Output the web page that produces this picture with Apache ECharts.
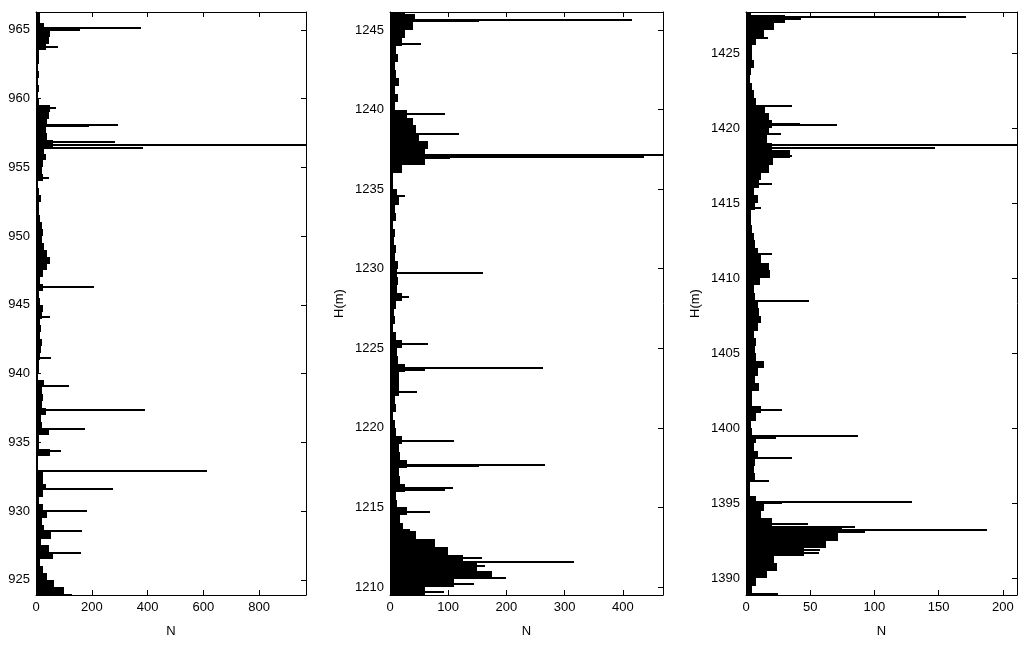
<!DOCTYPE html>
<html>
<head>
<meta charset="utf-8">
<script src="https://cdn.jsdelivr.net/npm/echarts@6/dist/echarts.min.js"></script>
<style>
  html, body { margin: 0; padding: 0; background: #fff; }
  #chart { width: 1024px; height: 645px; }
</style>
</head>
<body>
<div id="chart"></div>
<script>
// 粗分箱的宽度 (m)
const binStep = 0.5
// 细尖峰的厚度 (m)
const spikeStep = 0.12

// 面板 1：从 966.5 m 向下的计数
const topDepth1 = 966.5
const counts1 = [15, 15, 30, 50, 45, 35, 10, 12, 8, 12, 8, 10, 8, 12, 50, 45, 40, 35, 40, 60,
  30, 35, 25, 20, 25, 8, 12, 18, 10, 10, 15, 20, 25, 20, 30, 40, 50, 40, 25, 15,
  25, 12, 15, 25, 20, 15, 18, 15, 22, 18, 15, 10, 12, 8, 30, 20, 25, 20, 35, 18,
  20, 45, 10, 12, 50, 8, 6, 25, 25, 35, 25, 12, 25, 40, 20, 30, 55, 18, 45, 60,
  15, 25, 40, 65, 100, 130]
// 面板 1 的尖峰 [深度, N]
const spikes1 = [[965.15, 377], [965.0, 158], [963.8, 80], [959.3, 72], [958.1, 294], [958.0, 190],
  [956.85, 283], [956.65, 968], [956.45, 384], [954.25, 47], [946.3, 208], [944.15, 50],
  [941.15, 53], [939.1, 118], [937.35, 390], [935.95, 175], [934.4, 88], [932.93, 613],
  [931.6, 276], [930.0, 183], [928.6, 164], [927.0, 161]]

// 面板 2
const topDepth2 = 1246.5
const counts2 = [26, 43, 40, 25, 20, 10, 14, 8, 10, 15, 8, 13, 8, 30, 40, 45, 50, 65, 60, 60,
  20, 6, 5, 12, 15, 8, 10, 6, 9, 7, 10, 8, 14, 12, 14, 12, 20, 10, 7, 8,
  6, 10, 20, 12, 14, 25, 15, 16, 15, 8, 10, 6, 8, 10, 20, 15, 18, 30, 15, 18,
  25, 10, 12, 30, 18, 22, 45, 78, 100, 125, 150, 175, 110, 60]
const spikes2 = [[1245.65, 415], [1245.55, 153], [1244.15, 53], [1239.75, 95], [1238.45, 118],
  [1237.15, 470], [1237.05, 437], [1236.95, 103], [1234.6, 25], [1229.75, 160], [1228.2, 33],
  [1225.25, 65], [1223.75, 263], [1223.65, 60], [1222.25, 46], [1219.2, 110], [1217.7, 266],
  [1217.6, 153], [1216.2, 108], [1216.1, 95], [1214.7, 69], [1213.6, 35], [1211.8, 158],
  [1211.6, 316], [1211.3, 163], [1210.9, 172], [1210.6, 200], [1210.2, 144], [1209.7, 93]]

// 面板 3
const topDepth3 = 1428.0
const counts3 = [4, 30, 22, 14, 8, 5, 5, 6, 4, 3, 5, 6, 8, 15, 18, 20, 18, 16, 20, 34,
  21, 18, 12, 10, 6, 9, 7, 4, 4, 5, 6, 7, 9, 12, 18, 19, 11, 6, 7, 9,
  10, 12, 9, 6, 8, 7, 8, 14, 9, 7, 10, 5, 5, 12, 8, 4, 5, 8, 6, 9,
  7, 6, 7, 3, 3, 8, 14, 12, 20, 75, 72, 62, 45, 22, 24, 16, 8, 5, 25]
const spikes3 = [[1427.4, 171], [1427.3, 43], [1426.0, 17], [1421.45, 36], [1420.3, 42],
  [1420.2, 71], [1419.6, 27], [1418.85, 211], [1418.7, 147], [1418.15, 36], [1416.3, 20],
  [1414.65, 12], [1411.6, 20], [1408.5, 49], [1401.2, 28], [1399.45, 87], [1399.35, 23],
  [1398.0, 36], [1396.5, 18], [1395.1, 129], [1395.0, 28], [1393.6, 48], [1393.4, 85],
  [1393.2, 188], [1393.1, 93], [1391.9, 58], [1391.7, 57]]

// 坐标轴范围与刻度
const xMax = [968, 469, 211]
const yMin = [923.9, 1209.5, 1388.87]
const yMax = [966.3, 1246.13, 1427.73]
const xTicks = [[0, 200, 400, 600, 800], [0, 100, 200, 300, 400], [0, 50, 100, 150, 200]]
const yTicks = [
  [925, 930, 935, 940, 945, 950, 955, 960, 965],
  [1210, 1215, 1220, 1225, 1230, 1235, 1240, 1245],
  [1390, 1395, 1400, 1405, 1410, 1415, 1420, 1425]
]
const yNames = ['', 'H(m)', 'H(m)']

// 把计数和尖峰转成 [上界, 下界, N]
function buildRows (topDepth, counts, spikes) {
  const rows = counts.map((n, i) => [topDepth - i * binStep, topDepth - (i + 1) * binStep, n])
  spikes.forEach(s => rows.push([s[0] + spikeStep / 2, s[0] - spikeStep / 2, s[1]]))
  return rows
}
const panels = [
  buildRows(topDepth1, counts1, spikes1),
  buildRows(topDepth2, counts2, spikes2),
  buildRows(topDepth3, counts3, spikes3)
]

// 画一根横向的条，对齐到整像素，最细 2px
function drawBar (params, api) {
  const start = api.coord([0, api.value(0)])
  const end = api.coord([api.value(2), api.value(1)])
  const cs = params.coordSys
  const y0 = Math.round(Math.max(start[1], cs.y))
  let y1 = Math.round(Math.min(end[1], cs.y + cs.height))
  if (y1 - y0 < 2) y1 = Math.min(y0 + 2, cs.y + cs.height)
  const x0 = Math.round(start[0])
  const x1 = Math.round(Math.min(end[0], cs.x + cs.width))
  if (y0 >= cs.y + cs.height || x1 <= x0) return null
  return { type: 'rect', shape: { x: x0, y: y0, width: x1 - x0, height: y1 - y0 }, style: { fill: '#000' } }
}

const font = { color: '#000', fontSize: 13, fontFamily: 'Liberation Sans, Arial, sans-serif' }
const lineStyle = { color: '#000', width: 1 }

const grids = [
  { left: 36, top: 12, width: 270, height: 583 },
  { left: 390, top: 12, width: 273, height: 583 },
  { left: 746, top: 12, width: 271, height: 583 }
]
const xAxes = []
const yAxes = []
const series = []
grids.forEach((g, i) => {
  xAxes.push({
    gridIndex: i, type: 'value', position: 'bottom', min: 0, max: xMax[i],
    name: 'N', nameLocation: 'middle', nameGap: 30, nameTextStyle: font,
    axisLine: { show: true, onZero: false, lineStyle: lineStyle },
    axisTick: { inside: true, length: 5, customValues: xTicks[i], lineStyle: lineStyle },
    axisLabel: Object.assign({ margin: 6, customValues: xTicks[i], formatter: v => String(v) }, font),
    splitLine: { show: false }
  })
  xAxes.push({
    gridIndex: i, type: 'value', position: 'top', min: 0, max: xMax[i],
    axisLine: { show: true, onZero: false, lineStyle: lineStyle },
    axisTick: { inside: true, length: 5, customValues: xTicks[i], lineStyle: lineStyle },
    axisLabel: { show: false },
    splitLine: { show: false }
  })
  yAxes.push({
    gridIndex: i, type: 'value', position: 'left', min: yMin[i], max: yMax[i],
    name: yNames[i], nameLocation: 'middle', nameGap: 44, nameTextStyle: font,
    axisLine: { show: true, onZero: false, lineStyle: lineStyle },
    axisTick: { inside: true, length: 5, customValues: yTicks[i], lineStyle: lineStyle },
    axisLabel: Object.assign({ margin: 6, customValues: yTicks[i], formatter: v => String(v) }, font),
    splitLine: { show: false }
  })
  yAxes.push({
    gridIndex: i, type: 'value', position: 'right', min: yMin[i], max: yMax[i],
    axisLine: { show: true, onZero: false, lineStyle: lineStyle },
    axisTick: { inside: true, length: 5, customValues: yTicks[i], lineStyle: lineStyle },
    axisLabel: { show: false },
    splitLine: { show: false }
  })
  series.push({
    type: 'custom',
    xAxisIndex: i * 2,
    yAxisIndex: i * 2,
    renderItem: drawBar,
    encode: { x: 2, y: [0, 1] },
    data: panels[i],
    silent: true,
    animation: false
  })
})

const chart = echarts.init(document.getElementById('chart'))
chart.setOption({
  backgroundColor: '#fff',
  animation: false,
  grid: grids,
  xAxis: xAxes,
  yAxis: yAxes,
  series: series
})
</script>
</body>
</html>
